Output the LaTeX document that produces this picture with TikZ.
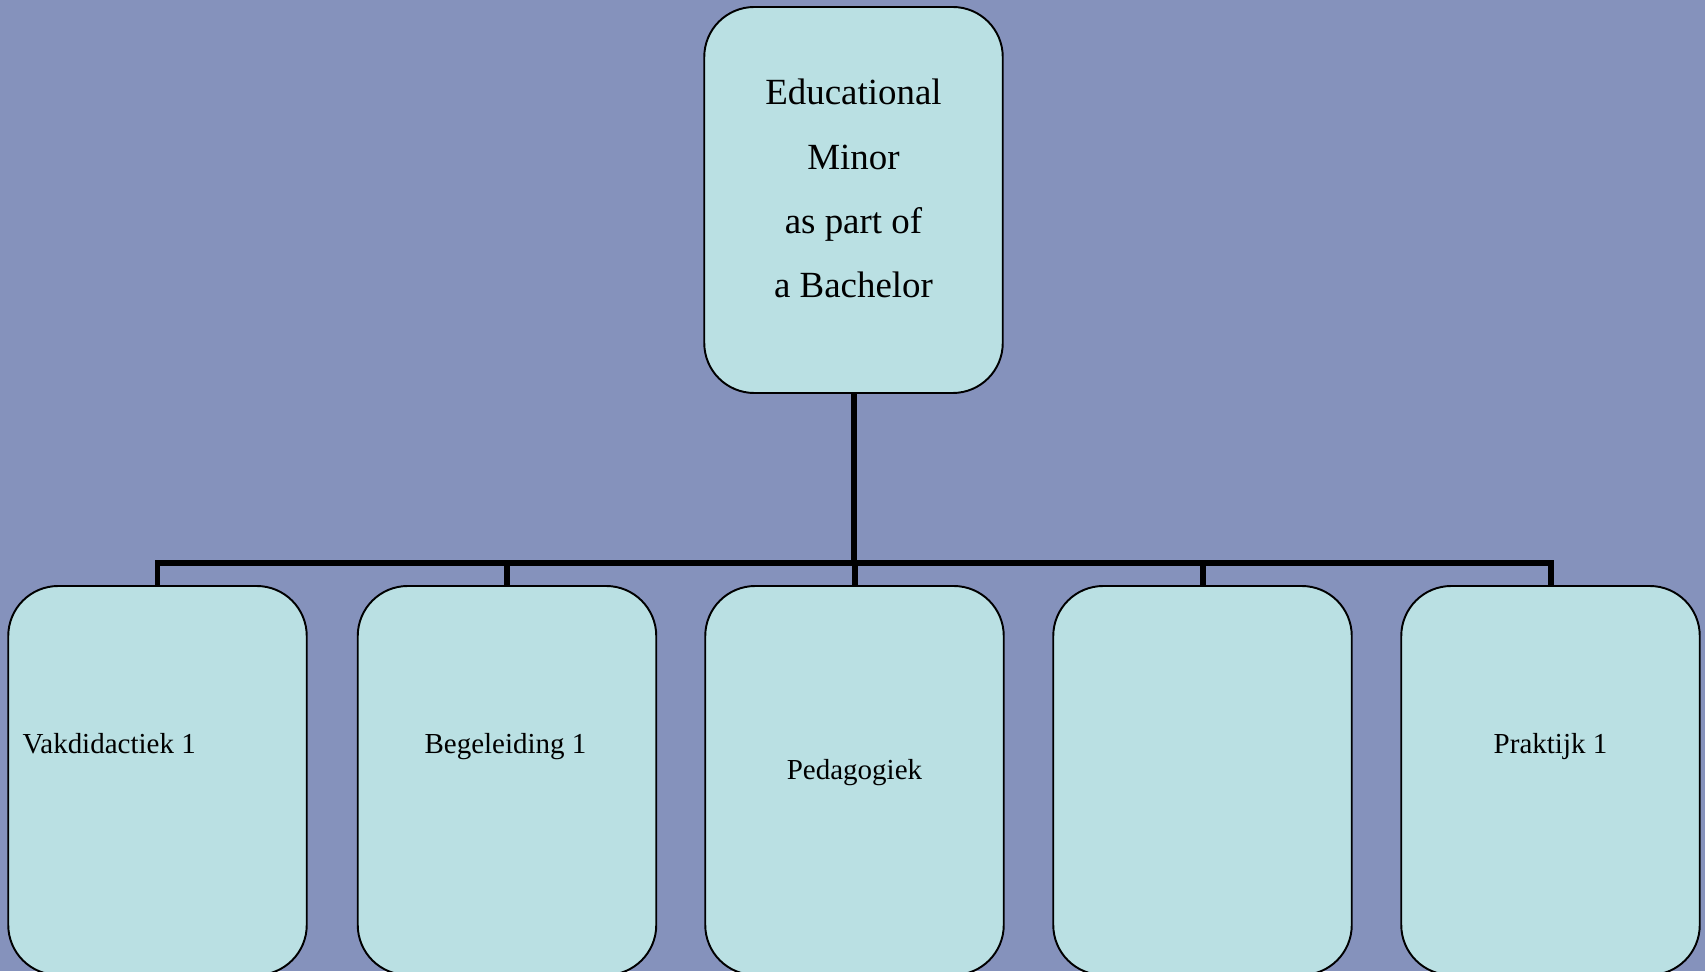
\documentclass[tikz,border=0pt]{standalone}
\usepackage{fontspec}
\setmainfont{Liberation Serif}
\usetikzlibrary{positioning}
\definecolor{bgblue}{RGB}{133,146,188}
\definecolor{boxfill}{RGB}{186,224,227}

\begin{document}
\begin{tikzpicture}[
    box/.style={draw=black,line width=1.1pt,fill=boxfill,rounded corners=1cm,
      minimum width=5.97cm,minimum height=7.78cm,inner sep=0pt},
    lbl/.style={font=\fontsize{16.5}{19}\selectfont,inner sep=0pt},
    conn/.style={line width=3.4pt}]

  % background
  \fill[bgblue] (0,0) rectangle (34.1,19.42);
  \useasboundingbox (0,0) rectangle (34.1,19.42);

  % top box
  \node[box,minimum height=7.72cm] (top) at (17.07,15.42) {};
  \node[align=center,inner sep=0pt,font=\fontsize{21}{36.5}\selectfont]
    (t0) at ([yshift=0.23cm]top.center) {Educational\\Minor\\as part of\\a Bachelor};

  % lower boxes
  \node[box] (b1) at (3.15,3.81) {};
  \node[box] (b2) at (10.14,3.81) {};
  \node[box] (b3) at (17.09,3.81) {};
  \node[box] (b4) at (24.05,3.81) {};
  \node[box] (b5) at (31.01,3.81) {};

  % texts
  \node[lbl,anchor=base west] (t1) at ([xshift=0.3cm,yshift=0.55cm]b1.west) {Vakdidactiek 1};
  \node[lbl,anchor=base] (t2) at ([xshift=-0.03cm,yshift=0.55cm]b2.center) {Begeleiding 1};
  \node[lbl,anchor=base] (t3) at ([yshift=0.03cm]b3.center) {Pedagogiek};
  \node[lbl,anchor=base] (t5) at ([yshift=0.55cm]b5.center) {Praktijk 1};

  % connectors
  \coordinate (bus) at (17.07,8.16);
  \foreach \b in {b1,b2,b3,b4,b5}
    \draw[conn] (top.south) -- (top.south |- bus) -| (\b.north);

\end{tikzpicture}
\end{document}
